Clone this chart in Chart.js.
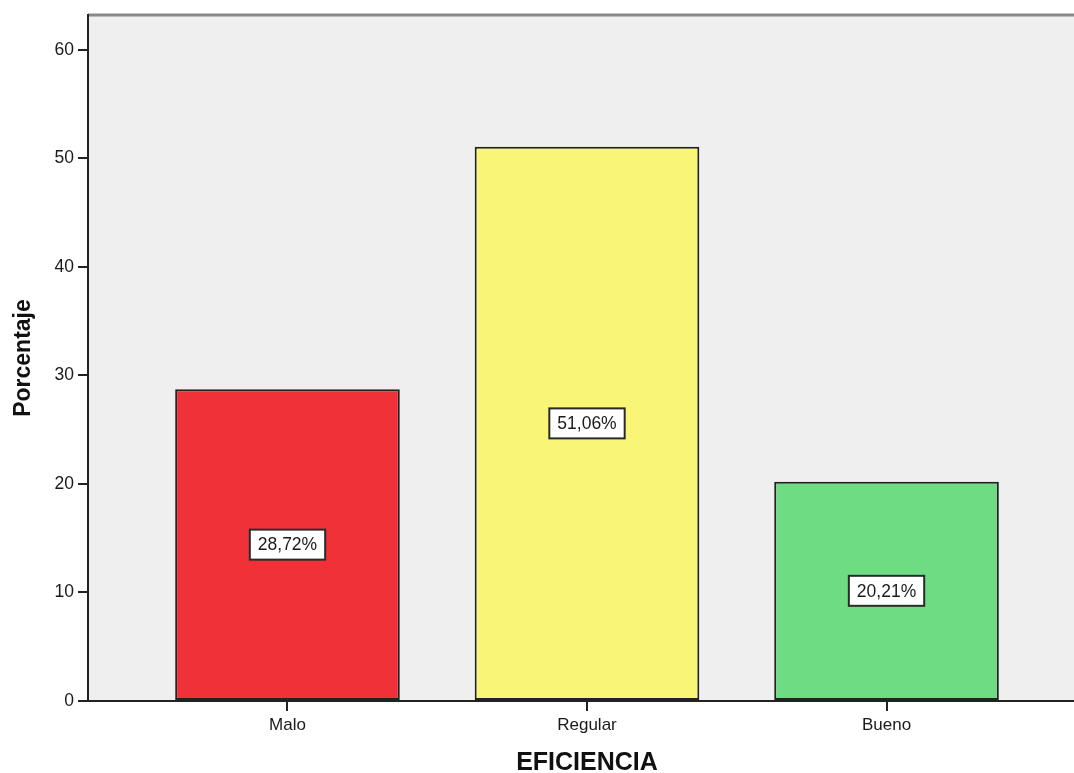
<!DOCTYPE html>
<html>
<head>
<meta charset="utf-8">
<script src="https://cdn.jsdelivr.net/npm/chart.js@4/dist/chart.umd.min.js"></script>
<style>
  html, body { margin: 0; padding: 0; background: #fff; }
  #wrap { width: 1074px; height: 773px; overflow: hidden; }
</style>
</head>
<body>
<div id="wrap"><canvas id="eficienciaChart" width="1090" height="773"></canvas></div>
<script>
// categorias y porcentajes
const categorias = ['Malo', 'Regular', 'Bueno'];
const porcentajes = [28.72, 51.06, 20.21];
const coloresBarra = ['#F03238', '#F9F677', '#6EDC82'];
const yTicks = [0, 10, 20, 30, 40, 50, 60];

Chart.defaults.font.family = '"Liberation Sans", Arial, sans-serif';
Chart.defaults.color = '#222';

// fondo gris del area de grafico y linea superior
const fondoPlugin = {
    id: 'fondo',
    beforeDraw(chart) {
        const { ctx, chartArea: a } = chart;
        ctx.save();
        ctx.fillStyle = '#EFEFEF';
        ctx.fillRect(a.left, a.top, a.right - a.left, a.bottom - a.top);
        ctx.strokeStyle = '#888';
        ctx.lineWidth = 3;
        ctx.beginPath();
        ctx.moveTo(a.left, a.top);
        ctx.lineTo(a.right, a.top);
        ctx.stroke();
        ctx.restore();
    }
};

// etiquetas con el porcentaje en el centro de cada barra
const etiquetasPlugin = {
    id: 'etiquetas',
    afterDatasetsDraw(chart) {
        const { ctx } = chart;
        const meta = chart.getDatasetMeta(0);
        ctx.save();
        ctx.font = '17.5px "Liberation Sans", Arial, sans-serif';
        ctx.textAlign = 'center';
        ctx.textBaseline = 'middle';
        meta.data.forEach((bar, i) => {
            const txt = porcentajes[i].toFixed(2).replace('.', ',') + '%';
            const cy = (bar.y + bar.base) / 2;
            const w = ctx.measureText(txt).width + 16;
            const h = 30;
            ctx.fillStyle = '#fff';
            ctx.fillRect(bar.x - w / 2, cy - h / 2, w, h);
            ctx.strokeStyle = '#2a2a2a';
            ctx.lineWidth = 2;
            ctx.strokeRect(bar.x - w / 2, cy - h / 2, w, h);
            ctx.fillStyle = '#1a1a1a';
            ctx.fillText(txt, bar.x, cy + 1);
        });
        ctx.restore();
    }
};

new Chart(document.getElementById('eficienciaChart'), {
    type: 'bar',
    data: {
        datasets: [{
            data: porcentajes.map((v, i) => ({ x: i, y: v })),
            backgroundColor: coloresBarra,
            borderColor: '#222',
            borderWidth: 2,
            borderSkipped: false,
            barPercentage: 0.75,
            categoryPercentage: 1
        }]
    },
    options: {
        responsive: false,
        animation: false,
        layout: { padding: { top: 15, right: 4, left: 0, bottom: 0 } },
        plugins: {
            legend: { display: false },
            tooltip: { enabled: false }
        },
        scales: {
            x: {
                type: 'linear',
                offset: false,
                min: -0.666,
                max: 2.666,
                afterFit: s => { s.height = 72; },
                afterBuildTicks: s => { s.ticks = categorias.map((c, i) => ({ value: i })); },
                grid: { offset: false, drawOnChartArea: false, drawTicks: true, tickLength: 10, color: '#222', lineWidth: 2 },
                border: { color: '#222', width: 2 },
                ticks: {
                    font: { size: 17 }, padding: 4, color: '#1a1a1a',
                    callback: v => categorias[v]
                },
                title: {
                    display: true,
                    text: 'EFICIENCIA',
                    font: { size: 25, weight: 'bold', lineHeight: 0.8 },
                    padding: { top: 0, bottom: 0 },
                    color: '#111'
                }
            },
            y: {
                min: 0,
                max: 63.2,
                afterFit: s => { s.width = 88; },
                afterBuildTicks: s => { s.ticks = yTicks.map(v => ({ value: v })); },
                grid: { drawOnChartArea: false, drawTicks: true, tickLength: 10, color: '#222', lineWidth: 2 },
                border: { color: '#222', width: 2 },
                ticks: { font: { size: 17.5 }, padding: 4, color: '#1a1a1a' },
                title: {
                    display: true,
                    text: 'Porcentaje',
                    font: { size: 23, weight: 'bold', lineHeight: 1.2 },
                    padding: { top: 10, bottom: 0 },
                    color: '#111'
                }
            }
        }
    },
    plugins: [fondoPlugin, etiquetasPlugin]
});
</script>
</body>
</html>
